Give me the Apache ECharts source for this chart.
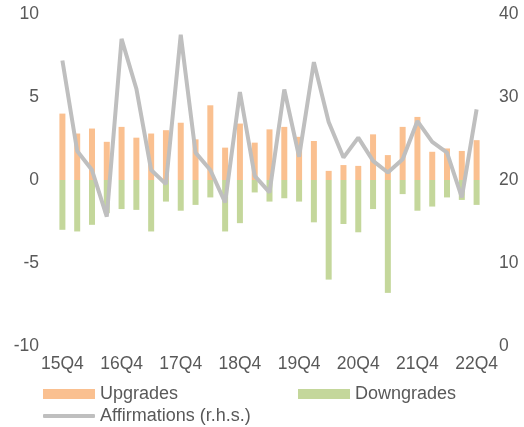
<!DOCTYPE html>
<html>
<head>
<meta charset="utf-8">
<script src="https://cdn.jsdelivr.net/npm/echarts@6/dist/echarts.min.js"></script>
<style>
  html, body { margin: 0; padding: 0; background: #fff; }
  #chart { width: 524px; height: 427px; }
</style>
</head>
<body>
<div id="chart"></div>
<script>
const quarters = ['15Q4', '16Q1', '16Q2', '16Q3', '16Q4', '17Q1', '17Q2', '17Q3', '17Q4', '18Q1',
  '18Q2', '18Q3', '18Q4', '19Q1', '19Q2', '19Q3', '19Q4', '20Q1', '20Q2', '20Q3',
  '20Q4', '21Q1', '21Q2', '21Q3', '21Q4', '22Q1', '22Q2', '22Q3', '22Q4']
const upgrades = [4.0, 2.8, 3.1, 2.3, 3.2, 2.55, 2.8, 3.0, 3.45, 2.45,
  4.5, 1.95, 3.4, 2.25, 3.05, 3.2, 2.6, 2.35, 0.55, 0.9,
  0.85, 2.75, 1.5, 3.2, 3.8, 1.7, 1.9, 1.75, 2.4]
const downgrades = [-3.0, -3.1, -2.7, -2.0, -1.75, -1.8, -3.1, -1.3, -1.85, -1.5,
  -1.05, -3.1, -2.6, -0.75, -1.3, -1.1, -1.3, -2.55, -6.0, -2.65,
  -3.15, -1.75, -6.8, -0.85, -1.85, -1.6, -1.05, -1.2, -1.5]
const affirmations = [34.4, 23.5, 21.2, 15.6, 37.0, 31.0, 21.2, 19.5, 37.5, 23.3,
  21.2, 17.3, 30.6, 20.5, 18.5, 30.9, 22.8, 34.2, 27.0, 22.7,
  25.1, 22.3, 20.9, 22.5, 27.1, 24.6, 23.3, 17.9, 28.5]

const textColor = '#595959'
const font = 'Liberation Sans, Arial, sans-serif'
const legendText = { fontSize: 18, color: textColor, fontFamily: font }

const chart = echarts.init(document.getElementById('chart'))
chart.setOption({
  animation: false,
  textStyle: { fontFamily: font, color: textColor },
  grid: { left: 55, right: 40, top: 14, bottom: 81 },
  legend: [
    {
      data: ['Upgrades'], left: 38, top: 380, itemWidth: 52, itemHeight: 10, itemGap: 5,
      icon: 'rect', textStyle: legendText
    },
    {
      data: ['Downgrades'], left: 293, top: 380, itemWidth: 52, itemHeight: 10, itemGap: 5,
      icon: 'rect', textStyle: legendText
    },
    {
      data: ['Affirmations (r.h.s.)'], left: 38, top: 402, itemWidth: 52, itemHeight: 4, itemGap: 5,
      icon: 'roundRect', textStyle: legendText
    }
  ],
  xAxis: {
    type: 'category',
    data: quarters,
    axisLine: { show: false },
    axisTick: { show: false },
    axisLabel: { interval: 3, fontSize: 17.5, color: textColor, margin: 9 }
  },
  yAxis: [
    {
      type: 'value', min: -10, max: 10, interval: 5,
      splitLine: { show: false },
      axisLabel: { fontSize: 17.5, color: textColor, margin: 16 }
    },
    {
      type: 'value', min: 0, max: 40, interval: 10,
      splitLine: { show: false },
      axisLabel: { fontSize: 17.5, color: textColor, margin: 15 }
    }
  ],
  series: [
    {
      name: 'Upgrades', type: 'bar', stack: 'ud', data: upgrades,
      barWidth: 6, itemStyle: { color: '#FAC090' }
    },
    {
      name: 'Downgrades', type: 'bar', stack: 'ud', data: downgrades,
      barWidth: 6, itemStyle: { color: '#C4D79B' }
    },
    {
      name: 'Affirmations (r.h.s.)', type: 'line', yAxisIndex: 1, data: affirmations,
      showSymbol: false, symbol: 'none',
      lineStyle: { color: '#BFBFBF', width: 4 }, itemStyle: { color: '#BFBFBF' }, z: 5
    }
  ]
})
</script>
</body>
</html>
